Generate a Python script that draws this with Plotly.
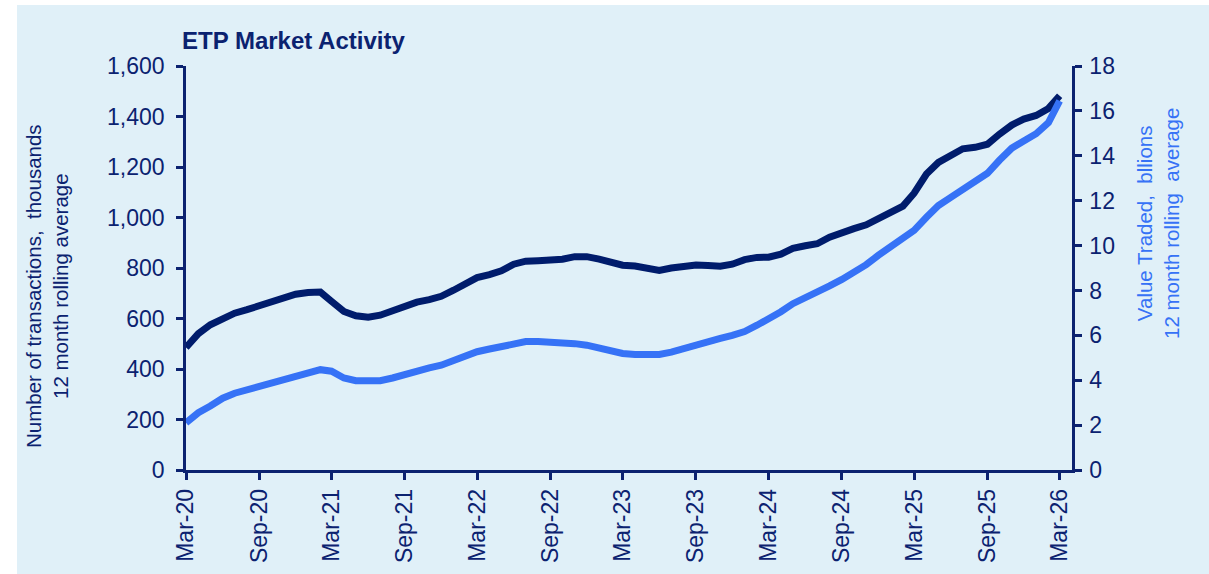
#---------------------------------------------------------------------
# ETP Market Activity
#---------------------------------------------------------------------

import pandas as pd
import plotly.graph_objects as go

#---------------------------------------------------------------------
# Data
#---------------------------------------------------------------------

months = pd.date_range('2020-03-01', '2026-03-01', freq='MS')

# number of transactions, thousands (12 month rolling average)
transactions = [
    485, 540, 575, 602, 621, 635, 650, 665, 683, 696, 703, 705,
    668, 628, 611, 605, 613, 633, 651, 665, 675, 688, 712, 741,
    762, 774, 789, 815, 827, 829, 831, 835, 845, 845, 835, 820,
    811, 808, 802, 790, 800, 809, 812, 810, 807, 815, 833, 842,
    843, 855, 878, 888, 896, 922, 942, 956, 971, 993, 1023, 1045,
    1096, 1172, 1218, 1242, 1272, 1278, 1290, 1330, 1366, 1390, 1404, 1432,
    1482,
]

# value traded, billions (12 month rolling average)
value_traded = [
    2.10, 2.55, 2.85, 3.20, 3.42, 3.57, 3.70, 3.88, 4.06, 4.22, 4.35, 4.47,
    4.40, 4.10, 3.98, 3.95, 3.98, 4.10, 4.27, 4.40, 4.55, 4.67, 4.88, 5.09,
    5.27, 5.39, 5.49, 5.63, 5.72, 5.72, 5.70, 5.68, 5.63, 5.56, 5.42, 5.26,
    5.19, 5.15, 5.13, 5.15, 5.25, 5.42, 5.57, 5.69, 5.86, 6.00, 6.17, 6.45,
    6.73, 7.05, 7.41, 7.66, 7.90, 8.20, 8.49, 8.80, 9.15, 9.56, 9.96, 10.27,
    10.68, 11.26, 11.78, 12.15, 12.52, 12.87, 13.22, 13.80, 14.34, 14.66, 14.98, 15.48,
    16.45,
]

#---------------------------------------------------------------------
# Style
#---------------------------------------------------------------------

NAVY = '#0b2270'
DARK = '#001c6c'
LIGHT = '#3672f6'
BG = '#e0f0f8'
FONT = 'Liberation Sans, Arial, sans-serif'

W, H = 1209, 574
L, T = 186, 66
R = W - 1072
B = H - 470
pw, ph = W - L - R, H - T - B

def px_x(xs):
    # pixel -> paper coordinate
    return (xs - L) / pw

def px_y(ys):
    return (H - B - ys) / ph

#---------------------------------------------------------------------
# Plot
#---------------------------------------------------------------------

fig = go.Figure()

fig.add_trace(go.Scatter(
    x=months, y=transactions, mode='lines', name='Transactions',
    line=dict(color=DARK, width=7), yaxis='y'
))
fig.add_trace(go.Scatter(
    x=months, y=value_traded, mode='lines', name='Value traded',
    line=dict(color=LIGHT, width=7), yaxis='y2'
))

axis_common = dict(
    showgrid=False, zeroline=False, showline=True, linecolor=NAVY,
    linewidth=2.5, ticks='outside', ticklen=7, tickwidth=2.5,
    tickcolor=NAVY, automargin=False,
    tickfont=dict(family=FONT, size=23, color=NAVY),
)

fig.update_layout(
    width=W, height=H,
    margin=dict(l=L, r=R, t=T, b=B),
    paper_bgcolor='white', plot_bgcolor='rgba(0,0,0,0)',
    showlegend=False,
    xaxis=dict(
        axis_common, type='date',
        range=['2020-03-01', '2026-04-01'],
        tick0='2020-03-01', dtick='M6', tickformat='%b-%y',
        tickangle=-90,
    ),
    yaxis=dict(axis_common, range=[0, 1600], dtick=200, tickformat=',',
               ticklabelstandoff=7),
    yaxis2=dict(axis_common, range=[0, 18], dtick=2, overlaying='y',
                side='right', ticklabelstandoff=3),
    shapes=[dict(
        type='rect', xref='paper', yref='paper', layer='below',
        x0=px_x(17), x1=px_x(1240), y0=px_y(600), y1=px_y(5),
        fillcolor=BG, line=dict(width=0),
    )],
    annotations=[
        dict(
            text='<b>ETP Market Activity</b>', xref='paper', yref='paper',
            x=px_x(180), y=px_y(41), xanchor='left', yanchor='middle',
            showarrow=False, font=dict(family=FONT, size=24, color=NAVY),
        ),
        dict(
            text='Number of transactions,&nbsp; thousands<br>12 month rolling average',
            xref='paper', yref='paper', x=px_x(47), y=px_y(286),
            xanchor='center', yanchor='middle', textangle=-90,
            showarrow=False, font=dict(family=FONT, size=20.5, color=NAVY),
        ),
        dict(
            text='Value Traded,&nbsp; bllions<br>12 month rolling&nbsp; average',
            xref='paper', yref='paper', x=px_x(1158), y=px_y(224),
            xanchor='center', yanchor='middle', textangle=-90,
            showarrow=False, font=dict(family=FONT, size=20.5, color=LIGHT),
        ),
    ],
)

# no page margin, so the figure fills the window
fig.write_html('out.html', config={'displayModeBar': False},
               post_script="document.body.style.margin = '0';")
